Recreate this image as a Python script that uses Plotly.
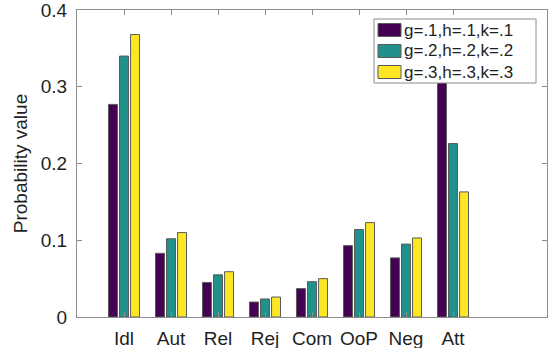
import plotly.graph_objects as go

# Categories and probability values for each parameter setting
categories = ["Idl", "Aut", "Rel", "Rej", "Com", "OoP", "Neg", "Att"]
positions = [1, 2, 3, 4, 5, 6, 7, 8]
series_names = ["g=.1,h=.1,k=.1", "g=.2,h=.2,k=.2", "g=.3,h=.3,k=.3"]
vals_1 = [0.277, 0.083, 0.045, 0.0195, 0.037, 0.093, 0.077, 0.34]
vals_2 = [0.340, 0.102, 0.055, 0.0235, 0.046, 0.114, 0.095, 0.226]
vals_3 = [0.368, 0.110, 0.059, 0.026, 0.050, 0.123, 0.103, 0.163]
y_ticks = [0, 0.1, 0.2, 0.3, 0.4]
y_ticktext = ["0", "0.1", "0.2", "0.3", "0.4"]

colors = ["#440154", "#21918c", "#fde725"]
edge = "#5a5a5a"
frame = "#8c8c8c"
text_col = "#1f1f1f"
font_family = "Liberation Sans, Arial, Helvetica, sans-serif"

W, H = 550, 348
ML, MR, MT, MB = 77, 3, 10, 31
PW, PH = W - ML - MR, H - MT - MB

fig = go.Figure()
for name, vals, col in zip(series_names, [vals_1, vals_2, vals_3], colors):
    fig.add_trace(go.Bar(
        x=positions, y=vals, name=name, showlegend=False,
        marker=dict(color=col, line=dict(color=edge, width=1)),
    ))

axis_style = dict(
    showline=True, linecolor=frame, linewidth=1, mirror="ticks",
    ticks="inside", ticklen=5, tickcolor=frame, showgrid=False,
    zeroline=False, automargin=False, ticklabeloverflow="allow",
    tickfont=dict(size=19, color=text_col, family=font_family),
)

fig.update_layout(
    width=W, height=H,
    margin=dict(l=ML, r=MR, t=MT, b=MB),
    paper_bgcolor="white", plot_bgcolor="white",
    barmode="group", bargap=0.295, bargroupgap=0.19,
    font=dict(family=font_family, color=text_col),
    xaxis=dict(range=[0, 10], tickvals=positions, ticktext=categories,
               ticklabelstandoff=4, **axis_style),
    yaxis=dict(range=[0, 0.4], tickvals=y_ticks, ticktext=y_ticktext,
               ticklabelstandoff=5,
               title=dict(text="Probability value", font=dict(size=19), standoff=8),
               **axis_style),
    showlegend=False,
)

# Boxed legend drawn in pixel units relative to the plot area
def px_x(px):
    return (px - ML) / PW

def px_y(py):
    return (H - MB - py) / PH

box = (374, 19, 536, 83)
fig.add_shape(type="rect", xref="paper", yref="paper", layer="above",
              x0=px_x(box[0]), x1=px_x(box[2]), y0=px_y(box[3]), y1=px_y(box[1]),
              fillcolor="white", line=dict(color=frame, width=1))
row_centers = [30, 51, 72]
for name, col, cy in zip(series_names, colors, row_centers):
    fig.add_shape(type="rect", xref="paper", yref="paper", layer="above",
                  x0=px_x(378), x1=px_x(401), y0=px_y(cy + 6.5), y1=px_y(cy - 6.5),
                  fillcolor=col, line=dict(color=edge, width=1))
    fig.add_annotation(text=name, xref="paper", yref="paper",
                       x=px_x(402), y=px_y(cy), xanchor="left", yanchor="middle",
                       showarrow=False, font=dict(size=17, color=text_col))

fig.write_html("out.html")
